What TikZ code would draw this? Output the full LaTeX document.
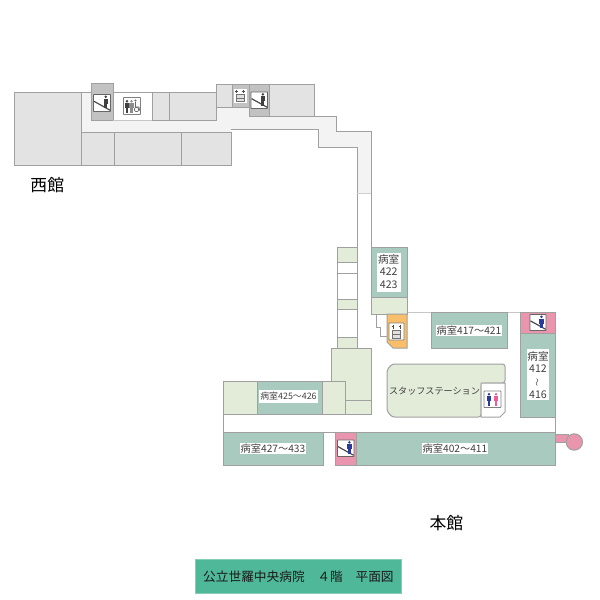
\documentclass[tikz,border=0pt]{standalone}
\usepackage{fontspec}
\setmainfont{Noto Sans CJK JP}
\definecolor{wall}{HTML}{A0A0A0}
\definecolor{grayroom}{HTML}{E3E3E3}
\definecolor{corr}{HTML}{F3F3F3}
\definecolor{core}{HTML}{C2C2C2}
\definecolor{teal}{HTML}{A9CBBF}
\definecolor{greenroom}{HTML}{E3EBD9}
\definecolor{pinkroom}{HTML}{E995AE}
\definecolor{orangeroom}{HTML}{F9BE69}
\definecolor{titlebg}{HTML}{4FB898}
\definecolor{labelink}{HTML}{404040}
\definecolor{manblue}{HTML}{2A3A9C}
\definecolor{ladypink}{HTML}{EE5C9C}
\tikzset{
  x=1pt,y=-1pt,
  wl/.style={line width=1pt,draw=wall},
  grayr/.style={wl,fill=grayroom},
  tealr/.style={wl,fill=teal},
  greenr/.style={wl,fill=greenroom},
  pinkr/.style={wl,fill=pinkroom},
  darkr/.style={wl,fill=core},
  lab/.style={fill=white,inner sep=1pt,text=labelink,font=\fontsize{10.2pt}{12pt}\selectfont},
  labs/.style={lab,font=\fontsize{8.9pt}{12pt}\selectfont,inner ysep=2pt},
  plain/.style={inner sep=0pt,text=labelink},
  iconbox/.style={fill=white,draw=#1,line width=0.9pt,rounded corners=0.6pt},
}
\newcommand{\pers}[3]{% x,y(top),colour
  \fill[#3] (#1,#2+1.3) circle (1.4pt);
  \fill[#3] (#1-2.2,#2+3) rectangle (#1+2.2,#2+8);
  \fill[#3] (#1-1.4,#2+8) rectangle (#1+1.4,#2+12.5);
}
\newcommand{\stairicon}[4]{% x,y,size,person colour
  \begin{scope}[shift={(#1,#2)}]
    \draw[iconbox=black!60] (0,0) rectangle (#3,#3);
    \draw[line width=1.2pt,black!70] (0.5,0.4*#3) -- (#3-0.3,#3-1.2);
    \pers{0.72*#3}{1}{#4}
  \end{scope}
}
\begin{document}
\begin{tikzpicture}
\useasboundingbox (0,0) rectangle (600,600);
\fill[white] (0,0) rectangle (600,600);

% West wing corridor
\path[fill=corr] (81,92) -- (91,92) -- (91,120) -- (216,120) -- (216,107) -- (249,107) -- (249,116) -- (336,116) -- (336,131) -- (371,131) -- (371,193) -- (357,193) -- (357,147) -- (318,147) -- (318,129) -- (231,129) -- (231,132) -- (81,132) -- cycle;
\draw[wl] (249,116) -- (336,116) -- (336,131) -- (371,131) -- (371,247);
\draw[wl] (231,129) -- (318,129) -- (318,147) -- (357,147) -- (357,337);
\draw[draw=wall!50,line width=0.6pt] (357,193) -- (371,193);
\draw[wl] (81,92) -- (91,92);

% West wing rooms
\draw[grayr] (14,92) rectangle (81,165);
\draw[grayr] (81,132) rectangle (114,165);
\draw[grayr] (114,132) rectangle (181,165);
\draw[grayr] (181,132) rectangle (231,165);
\draw[darkr] (91,83) rectangle (113,120);
\draw[wl] (113,92) -- (152,92);
\draw[draw=wall!60,line width=0.6pt] (113,120) -- (152,120);
\draw[grayr] (152,92) rectangle (169,120);
\draw[grayr] (169,92) rectangle (216,120);
\draw[grayr] (216,84) rectangle (232,107);
\draw[darkr] (232,84) rectangle (249,107);
\draw[darkr] (249,84) rectangle (269,116);
\draw[grayr] (269,84) rectangle (314,116);

\stairicon{93.5}{94.5}{17}{black!75}
\stairicon{251}{92}{16.5}{black!75}

% West WC icon
\draw[iconbox=gray] (123.5,97.5) rectangle (140.5,114.5);
\pers{127}{100}{black!75}
\pers{131.5}{100}{black!45}
\draw[black!60,line width=0.7pt] (136.5,109.5) circle (2.2pt);
\fill[black!60] (135.5,100.5) circle (1.1pt);
\draw[black!60,line width=0.8pt] (135.5,102) -- (135.5,107) -- (139,107) -- (139.5,110.5);

% Top elevator icon
\draw[fill=white,draw=white] (234,89) rectangle (246.5,102);
\draw[black!55,fill=black!12,line width=0.6pt] (236.5,94.5) rectangle (244,101.5);
\draw[black!55,line width=0.6pt] (236.5,98) -- (244,98);
\draw[black!70,line width=0.6pt] (236.5,90) -- (236.5,93) (235.2,91.5) -- (237.8,91.5) (243.5,90) -- (243.5,93) (242.2,91.5) -- (244.8,91.5);

% Connecting column
\draw[greenr] (337.7,247) rectangle (357,262);
\draw[wl] (337.7,262) rectangle (357,273);
\draw[wl] (337.7,273) rectangle (357,299);
\draw[greenr] (337.7,299) rectangle (357,309);
\draw[wl] (337.7,309) rectangle (357,337);
\draw[greenr] (337.7,337) rectangle (357,348);

% Rooms 422/423
\draw[draw=wall!60,line width=0.8pt] (407,312) -- (520,312);
\draw[tealr] (371,247) rectangle (407,297);
\draw[greenr] (371,297) rectangle (407,314);
\draw[wl,line width=0.6pt] (376,314) -- (376,327) -- (380,327) -- (380,336) -- (387,336);
\path[wl,fill=orangeroom] (387,314) -- (407,314) -- (407,348) -- (393,348) -- (387,342) -- cycle;
\draw[iconbox=gray,fill=white] (389,323) rectangle (404,340);
\draw[black!55,fill=black!12,line width=0.6pt] (392.5,330) rectangle (400.5,338);
\draw[black!55,line width=0.6pt] (392.5,334) -- (400.5,334);
\draw[black!70,line width=0.6pt] (393,325) -- (393,328.5) (391.6,326.6) -- (394.4,326.6) (400,325) -- (400,328.5) (398.6,326.6) -- (401.4,326.6);
\node[fill=white,minimum width=24pt,minimum height=38.7pt,inner sep=0pt] (box422) at (388.7,272.3) {};
\node[plain,font=\fontsize{10.6pt}{12pt}\selectfont] (t422a) at (388.7,259) {病室};
\node[plain,font=\fontsize{10.6pt}{12pt}\selectfont] (t422b) at (388.7,272) {422};
\node[plain,font=\fontsize{10.6pt}{12pt}\selectfont] (t422c) at (388.7,285) {423};

% Central block
\draw[wl,fill=greenroom] (331,348) -- (371.5,348) -- (371.5,414) -- (345,414) -- (345,385) -- (331,385) -- cycle;
\draw[wl] (345,400) -- (371.5,400);
\draw[greenr] (223,381) rectangle (257,414);
\draw[tealr] (257,381) rectangle (322,414);
\draw[greenr] (322,381) rectangle (345,414);
\draw[wl] (223,414) -- (223,432);
\node[labs] (r425) at (288.5,396.5) {病室425〜426};

% Nurse station
\draw[wl,fill=greenroom,rounded corners=2.5pt] (392,364) -- (505,364) -- (505,383) -- (481,383) -- (481,417) -- (392,417) -- (387,411) -- (387,370) -- cycle;
\path[wl,fill=white] (481,417) -- (481,383) -- (505,383) -- (505,412) -- (500,417) -- cycle;
\node[plain,font=\fontsize{9.1pt}{11pt}\selectfont] (station) at (434.5,391) {スタッフステーション};
\draw[iconbox=gray] (484,391) rectangle (501,407.5);
\pers{489}{393}{manblue}
\pers{496}{393}{ladypink}

% East rooms
\draw[tealr] (431,312) rectangle (507,348);
\node[lab] (r417) at (469,330.5) {病室417〜421};
\draw[pinkr] (520,312) rectangle (555,333);
\stairicon{530}{314.5}{16}{manblue}
\draw[tealr] (520,333) rectangle (555,417);
\node[fill=white,minimum width=22.6pt,minimum height=51pt,inner sep=0pt] (box412) at (538,374.5) {};
\node[plain,font=\fontsize{10.6pt}{12pt}\selectfont] (t412a) at (538,356.5) {病室};
\node[plain,font=\fontsize{10.6pt}{12pt}\selectfont] (t412b) at (538,369) {412};
\node[plain,rotate=90,font=\fontsize{8pt}{10pt}\selectfont] (t412c) at (538,382) {〜};
\node[plain,font=\fontsize{10.6pt}{12pt}\selectfont] (t412d) at (538,395) {416};
\draw[wl] (555,312) -- (555,465);

% South row
\draw[wl] (223,432) -- (555,432);
\draw[tealr] (223,432) rectangle (323,465);
\node[lab] (r427) at (273,448.5) {病室427〜433};
\draw[pinkr] (335,432) rectangle (356,465);
\stairicon{337.5}{440}{16.5}{manblue}
\draw[tealr] (356,432) rectangle (555,465);
\node[lab] (r402) at (455,448.5) {病室402〜411};

% Ramp
\draw[wl,fill=pinkroom] (555,434) rectangle (568,442.5);
\draw[wl,fill=pinkroom] (574.3,442) circle (8.2pt);

% Wing names and title
\node[inner sep=0pt,text=black,font=\fontsize{16.8pt}{18pt}\selectfont] (west) at (47.3,185) {西館};
\node[inner sep=0pt,text=black,font=\fontsize{16.8pt}{18pt}\selectfont] (main) at (446.3,523.5) {本館};
\node[fill=titlebg,draw=titlebg!70!white,line width=0.6pt,minimum width=206.5pt,minimum height=34pt,inner sep=0pt,text=black!90,font=\fontsize{12.7pt}{14pt}\selectfont] (title) at (298.4,576.5) {公立世羅中央病院　４階　平面図};
\end{tikzpicture}
\end{document}
